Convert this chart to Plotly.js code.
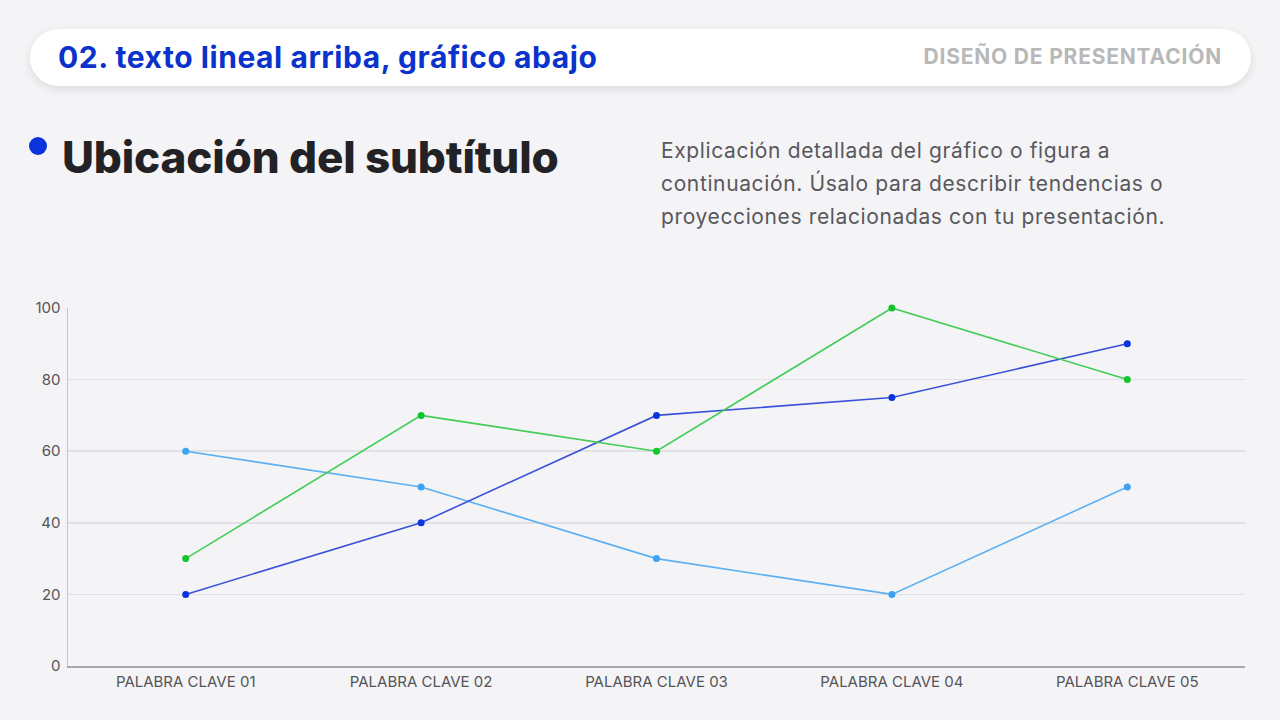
<!DOCTYPE html>
<html>
<head>
<meta charset="utf-8">
<script src="https://cdn.plot.ly/plotly-3.0.1.min.js"></script>
<style>
  html, body { margin:0; padding:0; width:1280px; height:720px; background:#f4f3f6; overflow:hidden; font-family: Inter, "Noto Sans", sans-serif; }
  #header { position:absolute; left:30px; top:29px; width:1221px; height:57px; background:#ffffff; border-radius:29px; box-shadow:0 3px 10px rgba(0,0,0,0.10); }
  #htitle { position:absolute; left:28px; top:10px; font-size:30px; font-weight:700; color:#0a33cc; letter-spacing:0.55px; }
  #hright { position:absolute; right:29px; top:15px; font-size:21px; font-weight:700; color:#b8b8b8; letter-spacing:0.8px; }
  #dot { position:absolute; left:29px; top:137px; width:18px; height:18px; border-radius:50%; background:#0a33dd; }
  #sub { position:absolute; left:62px; top:130px; font-size:44px; font-weight:800; color:#222226; letter-spacing:-0.15px; }
  #para { position:absolute; left:661px; top:134px; font-size:21px; line-height:33px; color:#58585c; letter-spacing:0.63px; }
  #chart { position:absolute; left:0; top:0; width:1280px; height:720px; }
</style>
</head>
<body>
<div id="chart"></div>
<div id="header"><div id="htitle">02. texto lineal arriba, gráfico abajo</div><div id="hright">DISEÑO DE PRESENTACIÓN</div></div>
<div id="dot"></div>
<div id="sub">Ubicación del subtítulo</div>
<div id="para">Explicación detallada del gráfico o figura a<br>continuación. Úsalo para describir tendencias o<br>proyecciones relacionadas con tu presentación.</div>
<script>
const categories = ["PALABRA CLAVE 01","PALABRA CLAVE 02","PALABRA CLAVE 03","PALABRA CLAVE 04","PALABRA CLAVE 05"];
const seriesDarkBlue = [20, 40, 70, 75, 90];
const seriesGreen = [30, 70, 60, 100, 80];
const seriesLightBlue = [60, 50, 30, 20, 50];
const yTicks = [0, 20, 40, 60, 80, 100];

function tr(y, lineColor, markerColor) {
  return { x: categories, y: y, type: 'scatter', mode: 'lines+markers',
    line: { color: lineColor, width: 1.6 },
    marker: { color: markerColor, size: 7 },
    hoverinfo: 'skip', cliponaxis: false };
}
const data = [
  tr(seriesLightBlue, '#5cb0f2', '#3da2f2'),
  tr(seriesDarkBlue, '#3a52d8', '#0a34e0'),
  tr(seriesGreen, '#40cc55', '#12c42e')
];
const layout = {
  width: 1280, height: 720,
  margin: { l: 68, r: 35, t: 308, b: 54 },
  paper_bgcolor: 'rgba(0,0,0,0)', plot_bgcolor: 'rgba(0,0,0,0)',
  showlegend: false,
  font: { family: 'Inter, "Noto Sans", sans-serif', color: '#555558', size: 15 },
  xaxis: { type: 'category', range: [-0.5, 4.5], showgrid: false, zeroline: false,
    showline: true, linecolor: '#a8a8ac', linewidth: 1.5, ticks: '', ticklen: 0,
    tickfont: { size: 15, color: '#555558' }, ticklabelstandoff: 1, fixedrange: true },
  yaxis: { range: [0, 100], tickvals: yTicks, ticktext: yTicks.map(String),
    showgrid: true, gridcolor: '#e1e0e4', gridwidth: 1.5, zeroline: false,
    showline: true, linecolor: '#c4c4c8', linewidth: 1.5, ticks: '',
    tickfont: { size: 15, color: '#555558' }, ticklabelstandoff: 3, fixedrange: true }
};
Plotly.newPlot('chart', data, layout, { displayModeBar: false, staticPlot: true });
</script>
</body>
</html>
